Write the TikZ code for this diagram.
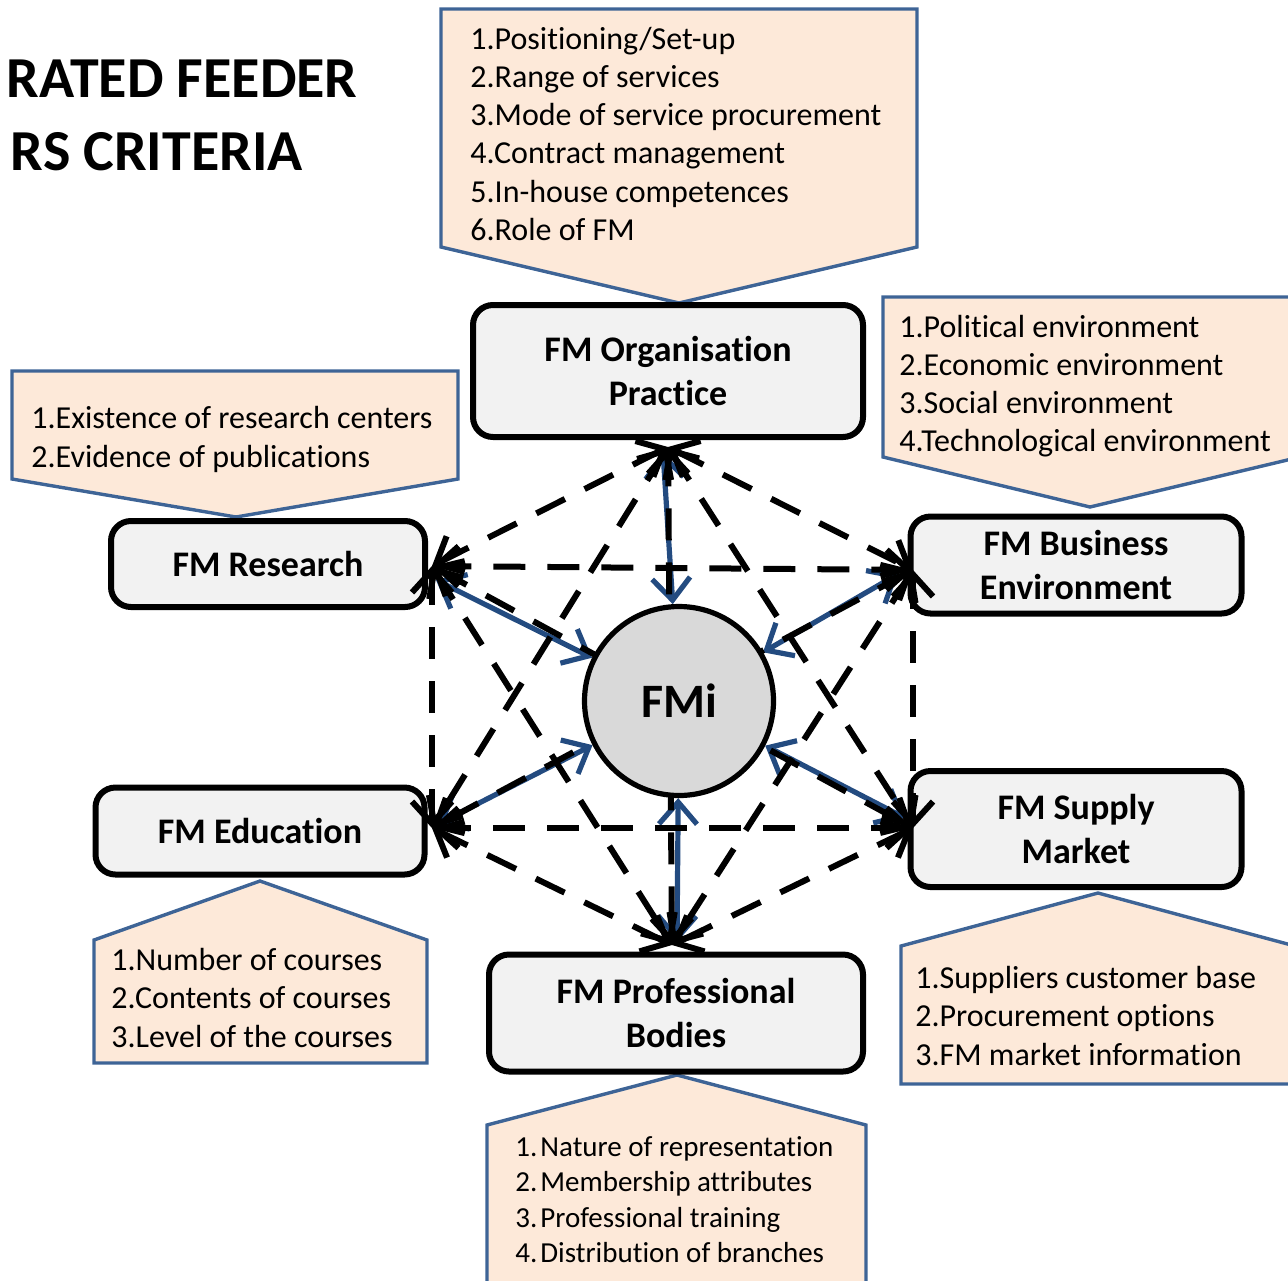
\documentclass[tikz,border=0pt]{standalone}
\usepackage{fontspec}
\setmainfont{Carlito}[Ligatures=NoCommon]
\usetikzlibrary{arrows.meta}
\definecolor{peach}{RGB}{253,233,217}
\definecolor{cborder}{RGB}{62,100,150}
\definecolor{barrow}{RGB}{35,75,128}
\definecolor{boxgray}{RGB}{242,242,242}
\definecolor{circgray}{RGB}{217,217,217}
\pgfdeclarelayer{fg}
\pgfsetlayers{main,fg}
\begin{document}
\begin{tikzpicture}[x=0.5pt,y=-0.5pt,
 callout/.style={draw=cborder,fill=peach,line width=1.7pt,line join=miter},
 fmbox/.style={draw=black,fill=boxgray,line width=3pt,rounded corners=10pt,align=center,font=\fontsize{18}{22}\selectfont\bfseries,inner sep=0pt},
 item/.style={anchor=base west,inner sep=0pt,font=\fontsize{16}{19}\selectfont},
 itemsm/.style={anchor=base west,inner sep=0pt,font=\fontsize{14.5}{17.5}\selectfont},
 titletext/.style={anchor=base east,inner sep=0pt,font=\fontsize{29}{35}\selectfont\bfseries},
 link/.style={draw=black,line width=3pt,dash pattern=on 16pt off 11pt,<->,>={Straight Barb[length=11pt,width=20pt]}},
 tie/.style={draw=barrow,line width=2.6pt,<->,>={Straight Barb[length=11pt,width=19pt]}},
]
\useasboundingbox (0,0) rectangle (1288,1280);
\clip (0,0) rectangle (1288,1280);

% title
\node[titletext] (t1) at (358,97) {RATED FEEDER};
\node[titletext] (t2) at (303,170) {RS CRITERIA};

% callouts
\draw[callout] (441,9) -- (917,9) -- (917,247) -- (679,303) -- (441,247) -- cycle;
\draw[callout] (12,371) -- (458,371) -- (458,479) -- (236,517) -- (12,479) -- cycle;
\draw[callout] (883,297) -- (1300,297) -- (1300,457) -- (1090,507) -- (883,457) -- cycle;
\draw[callout] (94,940) -- (260,881) -- (427,940) -- (427,1063) -- (94,1063) -- cycle;
\draw[callout] (901,946) -- (1098,893) -- (1295,946) -- (1295,1084) -- (901,1084) -- cycle;
\draw[callout] (487,1125) -- (677,1075) -- (866,1125) -- (866,1300) -- (487,1300) -- cycle;

% callout texts
\foreach \t [count=\i] in {1.Positioning/Set-up,2.Range of services,3.Mode of service procurement,4.Contract management,5.In-house competences,6.Role of FM}
  \node[item] (o\i) at (470,{49+38.3*(\i-1)}) {\t};
\foreach \t [count=\i] in {1.Existence of research centers,2.Evidence of publications}
  \node[item] (r\i) at (31,{428+39*(\i-1)}) {\t};
\foreach \t [count=\i] in {1.Political environment,2.Economic environment,3.Social environment,4.Technological environment}
  \node[item] (b\i) at (899,{337+38.3*(\i-1)}) {\t};
\foreach \t [count=\i] in {1.Number of courses,2.Contents of courses,3.Level of the courses}
  \node[item] (e\i) at (111,{970+38.5*(\i-1)}) {\t};
\foreach \t [count=\i] in {1.Suppliers customer base,2.Procurement options,3.FM market information}
  \node[item] (s\i) at (915,{988+38.5*(\i-1)}) {\t};
\foreach \t [count=\i] in {Nature of representation,Membership attributes,Professional training,Distribution of branches}
  \node[itemsm] (p\i) at (515,{1156+35.6*(\i-1)}) {\makebox[12.5pt][l]{\i.}\t};

% boxes
\node[fmbox,minimum width=195pt,minimum height=66pt] (org) at (668,371) {FM Organisation\\Practice};
\node[fmbox,minimum width=157pt,minimum height=43pt] (res) at (268,564) {FM Research};
\node[fmbox,minimum width=165.5pt,minimum height=48.5pt] (bus) at (1076,565) {FM Business\\Environment};
\node[fmbox,minimum width=164.5pt,minimum height=43.5pt] (edu) at (260,831) {FM Education};
\node[fmbox,minimum width=165.5pt,minimum height=58pt] (sup) at (1076,829) {FM Supply\\Market};
\node[fmbox,minimum width=187pt,minimum height=58.5pt] (pro) at (676,1013) {FM Professional\\Bodies};

% centre
\begin{pgfonlayer}{fg}
\node[circle,draw=black,fill=circgray,line width=2.6pt,minimum size=94.5pt,inner sep=0pt,font=\fontsize{24}{28}\selectfont\bfseries] (fmi) at (679,701) {FMi};
\end{pgfonlayer}

% hubs
\coordinate (hO) at (668,447);
\coordinate (hR) at (432,566);
\coordinate (hB) at (913,570);
\coordinate (hE) at (432,828);
\coordinate (hS) at (913,828);
\coordinate (hP) at (672,945);
\coordinate (bO) at (663,452);
\coordinate (bR) at (436,580);
\coordinate (bB) at (898,574);
\coordinate (bE) at (438,824);
\coordinate (bS) at (905,818);
\coordinate (bP) at (677,942);

% blue ties
\foreach \h in {bO,bR,bB,bE,bS,bP}
  \draw[tie] (fmi) -- (\h);

% dashed links
\draw[link] (hO) -- (hR);
\draw[link] (hO) -- (hB);
\draw[link] (hO) -- (hE);
\draw[link] (hO) -- (hS);
\draw[link] (hO) -- (hP);
\draw[link] (hR) -- (hB);
\draw[link] (hR) -- (hE);
\draw[link] (hR) -- (hS);
\draw[link] (hR) -- (hP);
\draw[link] (hB) -- (hE);
\draw[link] (hB) -- (hS);
\draw[link] (hB) -- (hP);
\draw[link] (hE) -- (hS);
\draw[link] (hE) -- (hP);
\draw[link] (hS) -- (hP);
\end{tikzpicture}
\end{document}
